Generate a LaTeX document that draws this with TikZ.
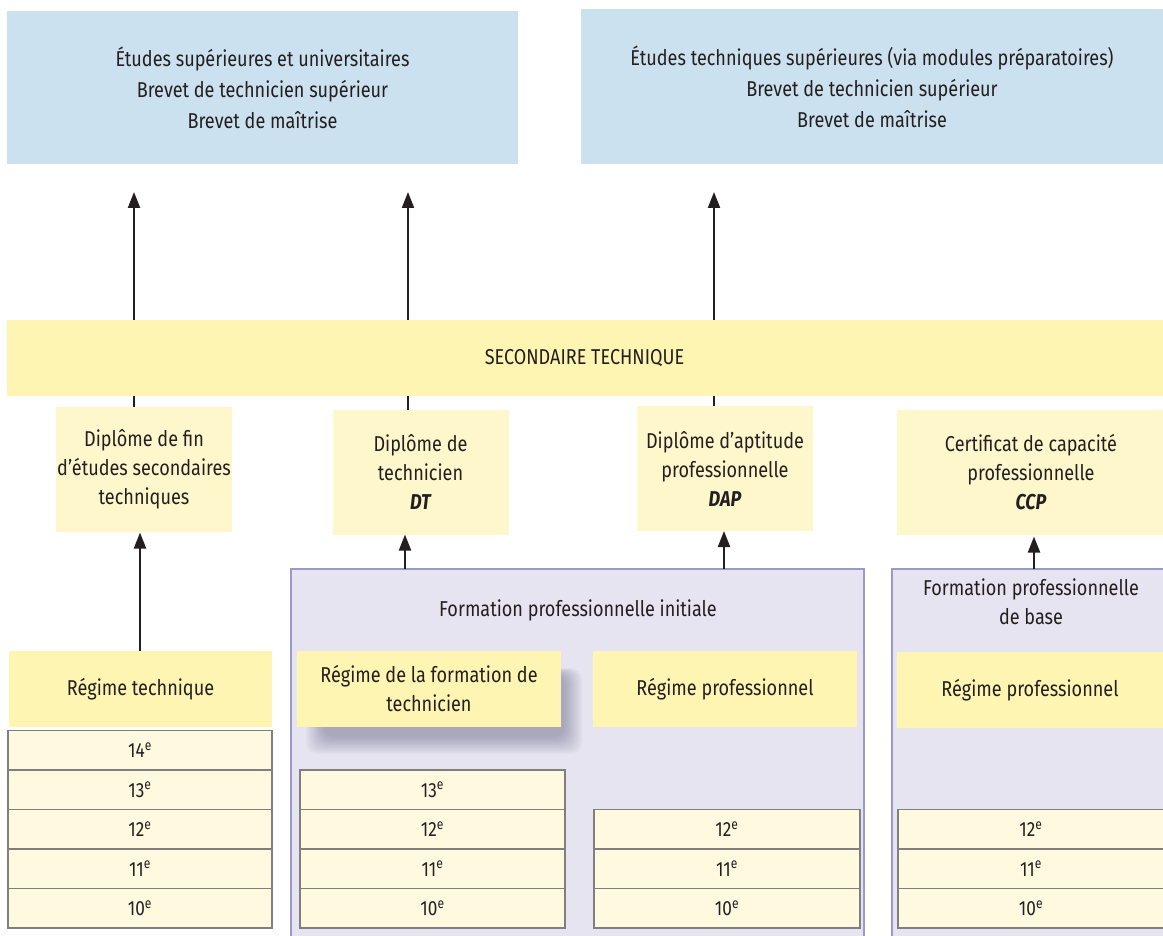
\documentclass[tikz,border=0pt]{standalone}
\usepackage{fontspec}
\setmainfont[FakeStretch=0.84]{Fira Sans}
\usetikzlibrary{arrows.meta}
\definecolor{topblue}{HTML}{CCE1EF}
\definecolor{band}{HTML}{FFF5B3}
\definecolor{dipl}{HTML}{FFF7CC}
\definecolor{cell}{HTML}{FFF9E0}
\definecolor{lav}{HTML}{E6E4F0}
\definecolor{lavborder}{HTML}{9A9ACA}
\definecolor{cellborder}{HTML}{7F7F7F}
\definecolor{ink}{HTML}{231F20}
\definecolor{shade}{HTML}{3A3A60}
\tikzset{
  every node/.style={inner sep=0pt, outer sep=0pt, align=center, text=ink,
    font=\fontsize{21.5}{29}\selectfont},
  topbox/.style={fill=topblue, font=\fontsize{21.5}{31}\selectfont},
  bandbox/.style={fill=band},
  diplbox/.style={fill=dipl, minimum width=176pt, minimum height=125pt},
  regbox/.style={fill=band, minimum height=76pt},
  framebox/.style={fill=lav, draw=lavborder, line width=2pt},
  gradecell/.style={fill=cell, draw=cellborder, line width=1.4pt, minimum height=39.5pt,
    font=\fontsize{20.5}{24}\selectfont},
  arr/.style={draw=ink, line width=2pt, -{Triangle[length=16pt,width=12pt]}},
  shadowlayer/.style={fill=shade, opacity=0.03, rounded corners=12pt}
}
\begin{document}
\begin{tikzpicture}[x=1pt,y=-1pt]
\useasboundingbox (0,0) rectangle (1163,936);

% top boxes
\node[topbox, minimum width=511pt, minimum height=153pt] (top1) at (262.5,87.5)
  {Études supérieures et universitaires\\Brevet de technicien supérieur\\Brevet de maîtrise};
\node[topbox, minimum width=582pt, minimum height=155pt] (top2) at (872,86.5)
  {Études techniques supérieures (via modules préparatoires)\\Brevet de technicien supérieur\\Brevet de maîtrise};

% diploma boxes
\node[diplbox] (dipl1) at (144,469) {Diplôme de fin\\d’études secondaires\\techniques};
\node[diplbox] (dt) at (420.5,472) {Diplôme de\\technicien\\{\bfseries\itshape DT}};
\node[diplbox] (dap) at (725,468.5) {Diplôme d’aptitude\\professionnelle\\{\bfseries\itshape DAP}};
\node[diplbox, minimum width=268pt] (ccp) at (1031,472) {Certificat de capacité\\professionnelle\\{\bfseries\itshape CCP}};

% upward arrows to the top boxes (behind the band)
\coordinate (a1) at (134,0);
\coordinate (a2) at (408,0);
\coordinate (a3) at (714,0);
\draw[arr, shorten >=28pt] (a1 |- dipl1.north) -- (a1 |- top1.south);
\draw[arr, shorten >=28pt] (a2 |- dt.north) -- (a2 |- top1.south);
\draw[arr, shorten >=28pt] (a3 |- dap.north) -- (a3 |- top2.south);

% band
\node[bandbox, minimum width=1156pt, minimum height=76pt] (band) at (584.5,358) {SECONDAIRE TECHNIQUE};

% frames
\node[framebox, minimum width=573pt, minimum height=380pt] (fpi) at (577.5,759) {};
\node[framebox, minimum width=275pt, minimum height=380pt] (fpb) at (1029.5,759) {};
\node (fpilab) at (578,610) {Formation professionnelle initiale};
\node (fpblab) at (1031,602) {Formation professionnelle\\de base};

% soft shadow under the technician regime box
\foreach \i in {0,...,11} {
  \fill[shadowlayer] (306+1.6*\i, 668+0.5*\i) rectangle (582-1.6*\i, 754-1.5*\i);
}

% regimes
\node[regbox, minimum width=263pt] (rt) at (140.5,689) {Régime technique};
\node[regbox, minimum width=264pt] (rft) at (429,689) {Régime de la formation de\\technicien};
\node[regbox, minimum width=264pt] (rp1) at (725,689) {Régime professionnel};
\node[regbox, minimum width=266pt] (rp2) at (1030,690) {Régime professionnel};

% lower arrows
\coordinate (b1) at (140,0);
\coordinate (b2) at (405,0);
\coordinate (b3) at (724,0);
\coordinate (b4) at (1034,0);
\draw[arr, shorten >=1pt] (b1 |- rt.north) -- (b1 |- dipl1.south);
\draw[arr] (b2 |- fpi.north) -- (b2 |- dt.south);
\draw[arr] (b3 |- fpi.north) -- (b3 |- dap.south);
\draw[arr, shorten >=2pt] (b4 |- fpb.north) -- (b4 |- ccp.south);

% grade cells: left column
\node[gradecell, minimum width=264pt] (l14) at (140,750.25) {14\textsuperscript{e}};
\node[gradecell, minimum width=264pt] (l13) at (140,789.75) {13\textsuperscript{e}};
\node[gradecell, minimum width=264pt] (l12) at (140,829.25) {12\textsuperscript{e}};
\node[gradecell, minimum width=264pt] (l11) at (140,868.75) {11\textsuperscript{e}};
\node[gradecell, minimum width=264pt] (l10) at (140,908.25) {10\textsuperscript{e}};
% middle-left
\node[gradecell, minimum width=265pt] (m13) at (432.5,789.75) {13\textsuperscript{e}};
\node[gradecell, minimum width=265pt] (m12) at (432.5,829.25) {12\textsuperscript{e}};
\node[gradecell, minimum width=265pt] (m11) at (432.5,868.75) {11\textsuperscript{e}};
\node[gradecell, minimum width=265pt] (m10) at (432.5,908.25) {10\textsuperscript{e}};
% middle-right
\node[gradecell, minimum width=266pt] (n12) at (727,829.25) {12\textsuperscript{e}};
\node[gradecell, minimum width=266pt] (n11) at (727,868.75) {11\textsuperscript{e}};
\node[gradecell, minimum width=266pt] (n10) at (727,908.25) {10\textsuperscript{e}};
% right
\node[gradecell, minimum width=266pt] (r12) at (1031,829.25) {12\textsuperscript{e}};
\node[gradecell, minimum width=266pt] (r11) at (1031,868.75) {11\textsuperscript{e}};
\node[gradecell, minimum width=266pt] (r10) at (1031,908.25) {10\textsuperscript{e}};
\end{tikzpicture}
\end{document}
